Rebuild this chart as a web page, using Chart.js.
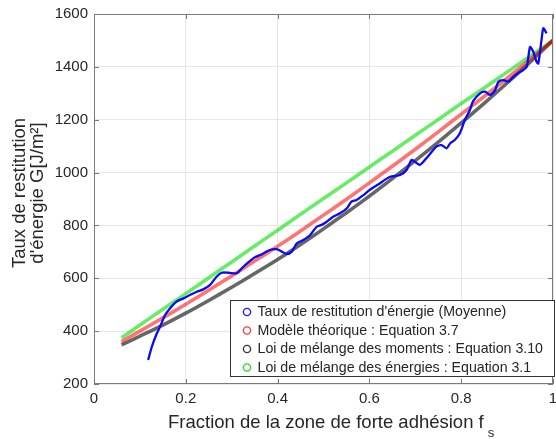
<!DOCTYPE html>
<html>
<head>
<meta charset="utf-8">
<script src="https://cdn.jsdelivr.net/npm/chart.js@4/dist/chart.umd.min.js"></script>
<style>
  html, body { margin: 0; padding: 0; background: #fff; }
  #wrap { width: 556px; height: 439px; }
</style>
</head>
<body>
<div id="wrap"><canvas id="c" width="556" height="439"></canvas></div>
<script>
// Measured mean energy release rate (blue curve)
const fsMesure = [0.118, 0.126, 0.137, 0.144, 0.155, 0.169, 0.180, 0.195, 0.209, 0.224,
  0.238, 0.253, 0.267, 0.278, 0.293, 0.311, 0.322, 0.336, 0.351, 0.362,
  0.383, 0.398, 0.409, 0.420, 0.431, 0.442, 0.456, 0.471, 0.485, 0.496,
  0.507, 0.521, 0.536, 0.551, 0.561, 0.572, 0.587, 0.601, 0.619, 0.645,
  0.667, 0.681, 0.692, 0.699, 0.710, 0.721, 0.736, 0.746, 0.757, 0.768,
  0.776, 0.786, 0.797, 0.808, 0.819, 0.826, 0.841, 0.852, 0.863, 0.874,
  0.881, 0.892, 0.903, 0.914, 0.924, 0.935, 0.943, 0.950, 0.957, 0.964,
  0.968, 0.975, 0.979, 0.986];
const gMesure = [291, 341, 392, 417, 461, 493, 512, 524, 537, 549,
  558, 575, 606, 621, 621, 619, 638, 660, 680, 688,
  707, 710, 701, 692, 701, 732, 745, 764, 795, 802,
  814, 833, 846, 865, 890, 896, 915, 935, 955, 984,
  991, 1010, 1048, 1041, 1029, 1048, 1079, 1098, 1104, 1092,
  1111, 1123, 1149, 1199, 1237, 1270, 1300, 1306, 1294, 1312,
  1344, 1350, 1344, 1363, 1376, 1388, 1401, 1475, 1457, 1420,
  1413, 1502, 1546, 1527];

// Model curves, sampled on a common fs grid
const fsModele = [0.06, 0.10, 0.15, 0.20, 0.25, 0.30, 0.35, 0.40, 0.45, 0.50,
  0.55, 0.60, 0.65, 0.70, 0.75, 0.80, 0.85, 0.90, 0.95, 1.00];
const gTheorique = [360, 400, 450, 502, 555, 609, 665, 721, 779, 839,
  899, 961, 1024, 1088, 1154, 1221, 1288, 1357, 1428, 1500];
const gMoments = [348, 381, 423, 468, 516, 566, 618, 671, 728, 787,
  848, 911, 977, 1045, 1115, 1188, 1262, 1339, 1418, 1500];
const gEnergies = [375, 423, 483, 542, 602, 662, 722, 782, 842, 902,
  961, 1021, 1081, 1141, 1201, 1261, 1320, 1380, 1440, 1500];

const xTicks = [0, 0.2, 0.4, 0.6, 0.8, 1];
const yTicks = [200, 400, 600, 800, 1000, 1200, 1400, 1600];

const legendLabels = [
  "Taux de restitution d'énergie (Moyenne)",
  "Modèle théorique : Equation 3.7",
  "Loi de mélange des moments : Equation 3.10",
  "Loi de mélange des énergies : Equation 3.1"
];
const markerColors = ['#1a1aff', '#ff3b3b', '#3a3a3a', '#1fe01f'];
const yTitle = ["Taux de restitution", "d'énergie G[J/m²]"];
const xTitle = "Fraction de la zone de forte adhésion f";
const xTitleSub = "s";

const FONT = "'Liberation Sans', Arial, Helvetica, sans-serif";
const AXIS = '#7a7a7a';
const TEXT = '#262626';

const pts = (xs, ys) => xs.map((v, i) => ({ x: v, y: ys[i] }));

// Axes box, inward tick marks, axis titles and the in-plot legend
const decor = {
  id: 'decor',
  afterDraw(chart) {
    const { ctx, chartArea: a, scales } = chart;
    const sx = scales.x, sy = scales.y;
    ctx.save();
    ctx.strokeStyle = AXIS;
    ctx.lineWidth = 1;
    ctx.strokeRect(Math.round(a.left) + 0.5, Math.round(a.top) + 0.5,
      Math.round(a.width) - 1, Math.round(a.height) - 1);
    const tl = 5;
    ctx.beginPath();
    xTicks.forEach(v => {
      const p = Math.round(sx.getPixelForValue(v)) + 0.5;
      ctx.moveTo(p, a.bottom); ctx.lineTo(p, a.bottom - tl);
      ctx.moveTo(p, a.top); ctx.lineTo(p, a.top + tl);
    });
    yTicks.forEach(v => {
      const p = Math.round(sy.getPixelForValue(v)) + 0.5;
      ctx.moveTo(a.left, p); ctx.lineTo(a.left + tl, p);
      ctx.moveTo(a.right, p); ctx.lineTo(a.right - tl, p);
    });
    ctx.stroke();

    // y axis title (two lines, rotated)
    ctx.fillStyle = TEXT;
    ctx.font = '18.5px ' + FONT;
    ctx.textAlign = 'center';
    ctx.textBaseline = 'alphabetic';
    const cy = 193;
    [25, 43].forEach((bx, i) => {
      ctx.save();
      ctx.translate(bx, cy);
      ctx.rotate(-Math.PI / 2);
      ctx.fillText(yTitle[i], 0, 0);
      ctx.restore();
    });

    // x axis title with subscript
    ctx.textAlign = 'left';
    ctx.font = '18.5px ' + FONT;
    const wMain = ctx.measureText(xTitle).width;
    const x0 = 168;
    ctx.fillText(xTitle, x0, 428);
    ctx.font = '13px ' + FONT;
    ctx.fillText(xTitleSub, x0 + wMain + 4, 437);

    // legend box
    const L = 230.5, T = 300.5, R = 554.5, B = 376.5;
    ctx.fillStyle = '#ffffff';
    ctx.fillRect(L, T, R - L, B - T);
    ctx.strokeStyle = '#333333';
    ctx.strokeRect(L, T, R - L, B - T);
    ctx.font = '14.2px ' + FONT;
    ctx.textBaseline = 'middle';
    const rows = [312, 330.5, 349, 367.5];
    legendLabels.forEach((lab, i) => {
      ctx.beginPath();
      ctx.strokeStyle = markerColors[i];
      ctx.lineWidth = 1.4;
      ctx.arc(247, rows[i], 3.6, 0, Math.PI * 2);
      ctx.stroke();
      ctx.fillStyle = TEXT;
      ctx.fillText(lab, 257.5, rows[i] + 0.5);
    });
    ctx.restore();
  }
};

new Chart(document.getElementById('c'), {
  type: 'scatter',
  data: {
    datasets: [
      {
        label: legendLabels[0],
        data: pts(fsMesure, gMesure),
        showLine: true,
        borderColor: '#0a0af5',
        borderWidth: 2.3,
        pointRadius: 0,
        tension: 0.25
      },
      {
        label: legendLabels[1],
        data: pts(fsModele, gTheorique),
        showLine: true,
        borderColor: 'rgba(255,0,0,0.55)',
        borderWidth: 3.6,
        pointRadius: 0,
        tension: 0.3
      },
      {
        label: legendLabels[2],
        data: pts(fsModele, gMoments),
        showLine: true,
        borderColor: 'rgba(0,0,0,0.6)',
        borderWidth: 3.6,
        pointRadius: 0,
        tension: 0.3
      },
      {
        label: legendLabels[3],
        data: pts(fsModele, gEnergies),
        showLine: true,
        borderColor: 'rgba(0,225,0,0.6)',
        borderWidth: 3.6,
        pointRadius: 0,
        tension: 0.3
      }
    ]
  },
  options: {
    responsive: false,
    animation: false,
    devicePixelRatio: 1,
    layout: { padding: { top: 14, right: 3, left: 0, bottom: 0 } },
    plugins: { legend: { display: false }, tooltip: { enabled: false } },
    scales: {
      x: {
        type: 'linear',
        min: 0, max: 1,
        afterBuildTicks: s => { s.ticks = xTicks.map(v => ({ value: v })); },
        afterFit: s => { s.height = 55; s.paddingLeft = 0; s.paddingRight = 0; },
        grid: { color: '#e6e6e6', drawTicks: false },
        border: { display: false },
        ticks: {
          padding: 6,
          color: TEXT,
          font: { family: FONT, size: 15 },
          maxRotation: 0,
          autoSkip: false,
          callback: v => String(v)
        }
      },
      y: {
        type: 'linear',
        min: 200, max: 1600,
        afterBuildTicks: s => { s.ticks = yTicks.map(v => ({ value: v })); },
        afterFit: s => { s.width = 94; s.paddingTop = 0; s.paddingBottom = 0; },
        grid: { color: '#e6e6e6', drawTicks: false },
        border: { display: false },
        ticks: {
          padding: 6,
          color: TEXT,
          font: { family: FONT, size: 15 },
          autoSkip: false,
          callback: v => String(v)
        }
      }
    }
  },
  plugins: [decor]
});
</script>
</body>
</html>
